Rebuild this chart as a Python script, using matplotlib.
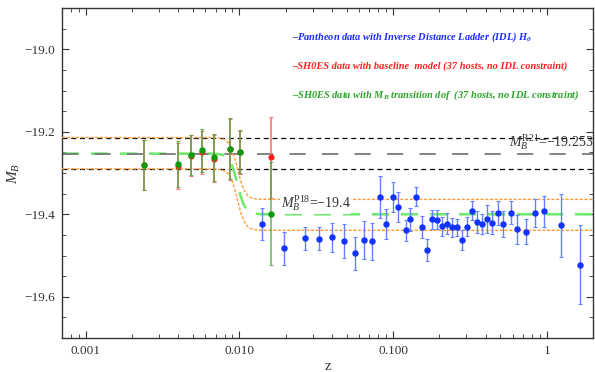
import numpy as np
import matplotlib
matplotlib.use("Agg")
import matplotlib.pyplot as plt
from matplotlib.ticker import FixedLocator, FuncFormatter, LogLocator, MultipleLocator, NullFormatter

plt.rcParams['font.family'] = ['Liberation Serif', 'DejaVu Serif']
plt.rcParams['mathtext.fontset'] = 'custom'
plt.rcParams['mathtext.rm'] = 'Liberation Serif'
plt.rcParams['mathtext.it'] = 'Liberation Serif:italic'
plt.rcParams['mathtext.bf'] = 'Liberation Serif:italic:bold'

# ---------------- data ----------------
# Pantheon binned data (IDL H0)
z_pan = [0.0140, 0.0194, 0.0266, 0.0330, 0.0398, 0.0479, 0.0564, 0.0645, 0.0727,
         0.0817, 0.0898, 0.1005, 0.1082, 0.1208, 0.1288, 0.141, 0.1535, 0.1655,
         0.180, 0.193, 0.209, 0.224, 0.243, 0.259, 0.280, 0.301, 0.325, 0.350,
         0.377, 0.410, 0.441, 0.481, 0.523, 0.584, 0.645, 0.734, 0.836, 0.966,
         1.246, 1.637]
M_pan = [-19.424, -19.483, -19.458, -19.459, -19.456, -19.465, -19.495, -19.462, -19.466,
         -19.358, -19.424, -19.358, -19.383, -19.439, -19.412, -19.357, -19.431, -19.486,
         -19.412, -19.413, -19.429, -19.423, -19.432, -19.432, -19.462, -19.430, -19.392,
         -19.419, -19.424, -19.411, -19.420, -19.398, -19.423, -19.396, -19.436, -19.442,
         -19.397, -19.393, -19.427, -19.522]
err_pan = [0.038, 0.039, 0.028, 0.028, 0.036, 0.042, 0.039, 0.046, 0.044,
           0.050, 0.037, 0.036, 0.036, 0.026, 0.028, 0.023, 0.026, 0.027,
           0.023, 0.023, 0.023, 0.025, 0.022, 0.021, 0.025, 0.023, 0.023,
           0.026, 0.025, 0.034, 0.029, 0.029, 0.032, 0.028, 0.035, 0.031,
           0.033, 0.038, 0.077, 0.095]

# SH0ES hosts
z_sh = [0.00241, 0.00398, 0.00483, 0.00573, 0.00686, 0.0087, 0.01014, 0.01607]
M_red = [-19.281, -19.283, -19.258, -19.250, -19.265, -19.243, -19.250, -19.262]
err_red = [0.061, 0.056, 0.049, 0.053, 0.058, 0.075, 0.053, 0.098]
M_green = [-19.280, -19.278, -19.256, -19.245, -19.262, -19.241, -19.248, -19.399]
err_green = [0.061, 0.055, 0.048, 0.052, 0.057, 0.074, 0.052, 0.125]

# reference levels and transition model
M_R21 = -19.253
R21_band = (-19.214, -19.290)
M_P18 = -19.4
model_low = -19.253
model_high = -19.400
band_up = (-19.214, -19.364)
band_dn = (-19.290, -19.439)
z_t = 0.0097
w_dex = 0.05

x_ticks = [0.001, 0.01, 0.1, 1]
x_ticklabels = ["0.001", "0.010", "0.100", "1"]
y_ticks = [-19.6, -19.4, -19.2, -19.0]

def transition(z, lo, hi):
    s = 0.5 * (1 + np.tanh((np.log10(z) - np.log10(z_t)) / w_dex))
    return lo + (hi - lo) * s

# ---------------- figure ----------------
fig = plt.figure(figsize=(5.95, 3.72), dpi=100)
ax = fig.add_axes([62/595, 1 - 338/372, 531/595, 330/372])
ax.set_xscale('log')
ax.set_xlim(0.0007, 2.0)
ax.set_ylim(-19.7, -18.9)

zz = np.logspace(np.log10(0.0007), np.log10(2.0), 600)

# black short-dashed band lines
for v in R21_band:
    ax.axhline(v, color='black', lw=0.9, dashes=(4, 3), zorder=1)
# green model line
ax.plot(zz, transition(zz, model_low, model_high), color='#72e872', lw=1.9,
        dashes=(6.5, 4.5), zorder=2)
# grey long dashed R21 line
ax.axhline(M_R21, color='#7a7a7a', lw=1.3, dashes=(9, 9), zorder=2.5)
# orange dotted band
for b in (band_up, band_dn):
    ax.plot(zz, transition(zz, b[0], b[1]), color='#ff9a3c', lw=1.0,
            dashes=(2.2, 1.2), zorder=3)

# error bars
ax.errorbar(z_pan, M_pan, yerr=err_pan, fmt='o', color='#1133ff', ms=3.6,
            ecolor='#6680ff', elinewidth=1.0, capsize=1.5, capthick=0.8, zorder=5)
ax.errorbar(z_sh, M_red, yerr=err_red, fmt='o', color='#ff1a1a', ms=3.4,
            ecolor='#ff7777', elinewidth=1.2, capsize=1.5, capthick=0.8, zorder=5)
ax.errorbar(z_sh, M_green, yerr=err_green, fmt='o', color='#119911', ms=3.6,
            ecolor=(0.25, 0.65, 0.2, 0.75), elinewidth=1.2, capsize=1.5, capthick=0.8, zorder=6)

# labels on lines
ax.text(1.0, M_R21 + 0.003, r'$M_B^{\mathrm{R21}}$=−19.253', transform=ax.get_yaxis_transform(),
        ha='right', va='bottom', fontsize=10, color='#333333', zorder=7)
ax.text(0.0186, M_P18 + 0.003, r'$M_B^{\mathrm{P18}}$=−19.4', ha='left', va='bottom', fontsize=10,
        color='#333333', zorder=7,
        bbox=dict(facecolor='white', edgecolor='none', pad=0.5))

# legend-like texts
leg_kw = dict(transform=ax.transAxes, fontsize=7.5, fontweight='bold', fontstyle='italic',
              ha='left', va='center', zorder=8)
ax.text(0.433, 0.912, r'–Pantheon data with Inverse Distance Ladder (IDL) $\mathbf{H_0}$',
        color='#1a2cff', **leg_kw)
ax.text(0.433, 0.824, '–SH0ES data with baseline  model (37 hosts, no IDL constraint)',
        color='#ff2020', **leg_kw)
ax.text(0.433, 0.736, r'–SH0ES data with $\mathbf{M_B}$ transition dof  (37 hosts, no IDL constraint)',
        color='#2aa52a', **leg_kw)

# axes styling
ax.xaxis.set_major_locator(FixedLocator(x_ticks))
ax.xaxis.set_major_formatter(FuncFormatter(lambda v, p: x_ticklabels[x_ticks.index(min(x_ticks, key=lambda t: abs(np.log10(t) - np.log10(v))))]))
ax.xaxis.set_minor_locator(LogLocator(base=10, subs=np.arange(2, 10)))
ax.xaxis.set_minor_formatter(NullFormatter())
ax.yaxis.set_major_locator(FixedLocator(y_ticks))
ax.yaxis.set_major_formatter(FuncFormatter(lambda v, p: f"{v:.1f}".replace('-', '−')))
ax.yaxis.set_minor_locator(MultipleLocator(0.05))
ax.tick_params(which='both', direction='in', top=True, right=True, colors='#333333',
               labelsize=9.5, labelcolor='#333333')
ax.tick_params(which='major', length=5, width=0.8, pad=5)
ax.tick_params(which='minor', length=2.8, width=0.6)
for s in ax.spines.values():
    s.set_color('#333333')
    s.set_linewidth(1.0)

ax.set_xlabel('z', fontsize=11, color='#333333', labelpad=2)
ax.set_ylabel(r'$M_B$', fontsize=11, color='#333333', labelpad=2)

fig.savefig('out.png', dpi=100)
